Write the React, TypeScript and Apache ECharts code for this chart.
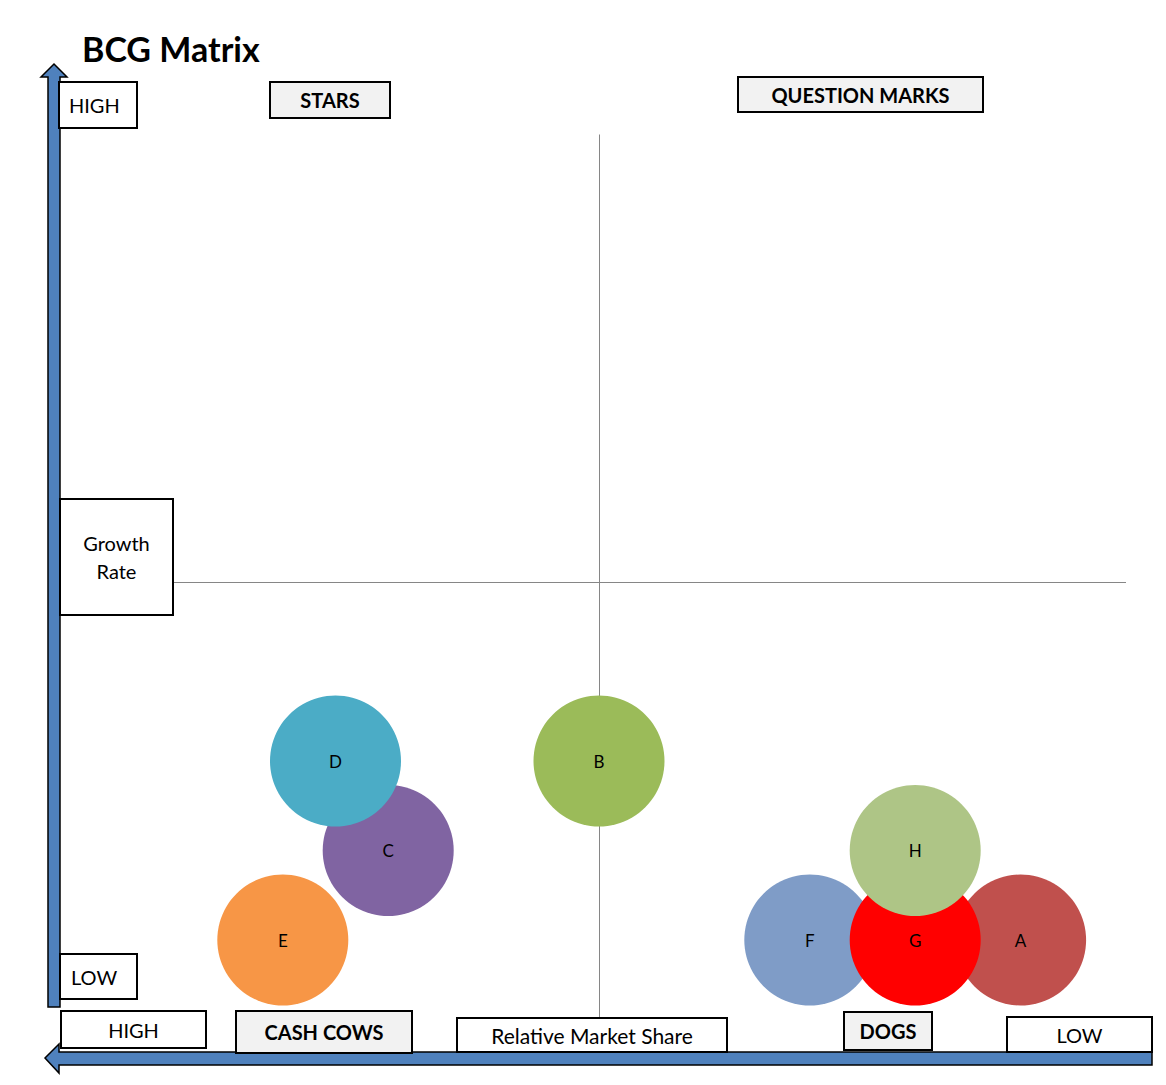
import React, { useEffect, useRef } from "react";
import * as echarts from "echarts";

const names = ["A", "B", "C", "D", "E", "F", "G", "H"];
const relativeShare = [18, 10, 6, 5, 4, 14, 16, 16];
const growthRate = [1, 3, 2, 3, 1, 1, 1, 2];
const bubbleSize = [10, 10, 10, 10, 10, 10, 10, 10];
const bubbleColors = ["#C0504D", "#9BBB59", "#8064A2", "#4BACC6", "#F79646", "#7F9CC7", "#FF0000", "#AEC586"];
const xMin = 0, xMax = 20, xMid = 10;
const yMin = 0, yMax = 10, yMid = 5;

const FONT = "Lato, 'Open Sans', sans-serif";

type Box = { x: number; y: number; w: number; h: number; text: string; bold?: boolean; fill?: string; align?: "left" | "center"; tx?: number; size?: number };
const boxes: Box[] = [
  { x: 59, y: 82, w: 78, h: 46, text: "HIGH", align: "left", tx: 69 },
  { x: 270, y: 82, w: 120, h: 36, text: "STARS", bold: true, fill: "#F2F2F2" },
  { x: 738, y: 77, w: 245, h: 35, text: "QUESTION MARKS", bold: true, fill: "#F2F2F2" },
  { x: 60, y: 499, w: 113, h: 116, text: "Growth\nRate" },
  { x: 60, y: 954, w: 77, h: 45, text: "LOW", align: "left", tx: 71 },
  { x: 61, y: 1011, w: 145, h: 37, text: "HIGH" },
  { x: 236, y: 1011, w: 176, h: 42, text: "CASH COWS", bold: true, fill: "#F2F2F2" },
  { x: 457, y: 1018, w: 270, h: 34, text: "Relative Market Share", size: 21 },
  { x: 844, y: 1012, w: 88, h: 38, text: "DOGS", bold: true, fill: "#F2F2F2" },
  { x: 1007, y: 1017, w: 145, h: 35, text: "LOW" },
];

export default function App() {
  const ref = useRef<HTMLDivElement>(null);
  useEffect(() => {
    if (!ref.current) return;
    const chart = echarts.init(ref.current, null, { renderer: "svg" });
    const data = names.map((n, i) => ({
      name: n,
      value: [relativeShare[i], growthRate[i], bubbleSize[i]],
      itemStyle: { color: bubbleColors[i], opacity: 1 },
    }));
    const graphics: any[] = [];
    graphics.push({
      type: "polygon",
      z: 50,
      shape: { points: [[48, 1007], [48, 77], [41, 77], [54, 64], [67, 77], [60, 77], [60, 1007]] },
      style: { fill: "#4F81BD", stroke: "#000", lineWidth: 1.5 },
    });
    graphics.push({
      type: "polygon",
      z: 50,
      shape: { points: [[1152, 1052], [59, 1052], [59, 1044], [45, 1058], [59, 1073], [59, 1065], [1152, 1065]] },
      style: { fill: "#4F81BD", stroke: "#000", lineWidth: 1.5 },
    });
    boxes.forEach((b) => {
      graphics.push({
        type: "rect",
        z: 60,
        shape: { x: b.x, y: b.y, width: b.w, height: b.h },
        style: { fill: b.fill || "#FFFFFF", stroke: "#000", lineWidth: 2 },
      });
      graphics.push({
        type: "text",
        z: 61,
        x: b.align === "left" ? b.tx : b.x + b.w / 2,
        y: b.y + b.h / 2,
        style: {
          text: b.text,
          fill: "#000",
          font: `${b.bold ? "bold " : ""}${b.size || 20}px ${FONT}`,
          align: b.align === "left" ? "left" : "center",
          verticalAlign: "middle",
          lineHeight: 28,
        },
      });
    });
    graphics.push({
      type: "text",
      z: 61,
      x: 82,
      y: 48,
      style: { text: "BCG Matrix", fill: "#000", font: `bold 34px ${FONT}`, align: "left", verticalAlign: "middle" },
    });

    chart.setOption({
      animation: false,
      backgroundColor: "#FFFFFF",
      grid: { left: 72, right: 40, top: 134.5, bottom: 55.5 },
      xAxis: { type: "value", min: xMin, max: xMax, show: false },
      yAxis: { type: "value", min: yMin, max: yMax, show: false },
      series: [
        {
          type: "scatter",
          z: 1,
          data: [],
          markLine: {
            z: 1,
            silent: true,
            symbol: "none",
            label: { show: false },
            lineStyle: { color: "#868686", width: 1, type: "solid" },
            data: [{ xAxis: xMid }, { yAxis: yMid }],
          },
        },
        {
          type: "scatter",
          z: 3,
          data,
          symbolSize: (v: number[]) => v[2] * 13.1,
          itemStyle: { opacity: 1 },
          label: {
            show: true,
            position: "inside",
            formatter: "{b}",
            color: "#000",
            fontSize: 17,
            fontFamily: FONT,
          },
          emphasis: { disabled: true },
        },
      ],
      graphic: graphics,
    });
    return () => chart.dispose();
  }, []);
  return <div ref={ref} style={{ position: "absolute", left: 0, top: 0, width: 1166, height: 1085 }} />;
}
